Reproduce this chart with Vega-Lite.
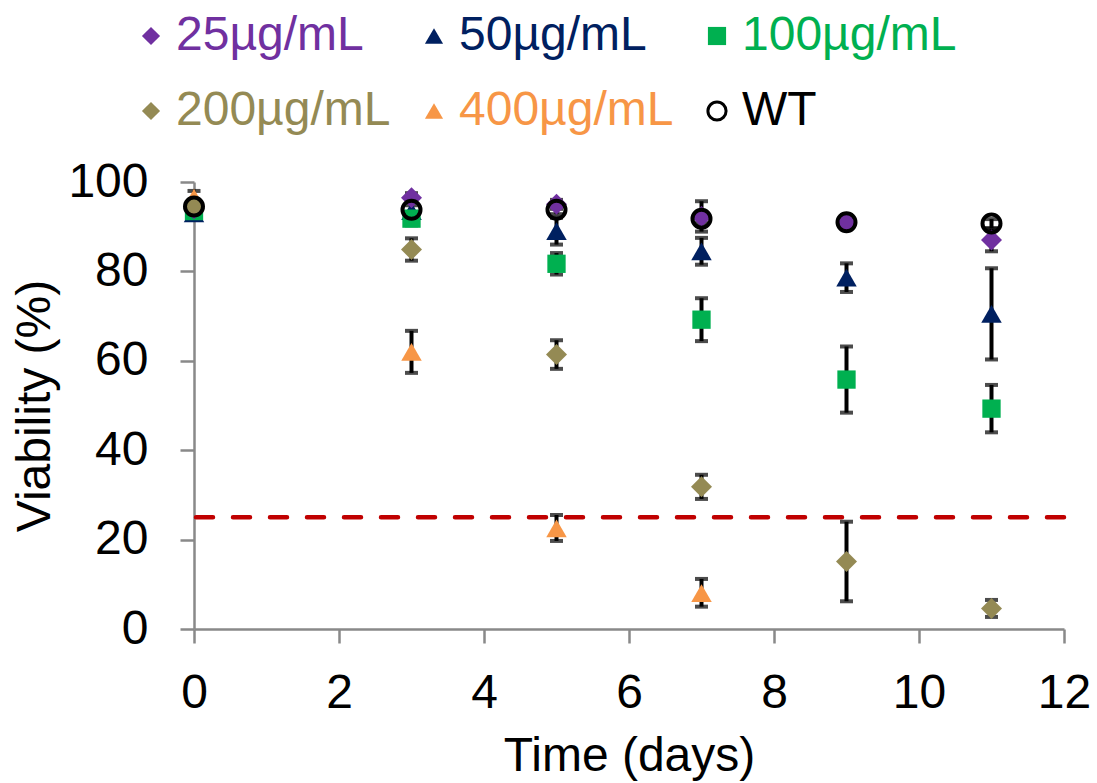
{
  "$schema": "https://vega.github.io/schema/vega-lite/v6.json",
  "width": 870,
  "height": 447,
  "autosize": "none",
  "padding": {"left": 194, "top": 182, "right": 33, "bottom": 154},
  "background": "white",
  "datasets": {
    "viability": [
      {"day": 0, "group": "25µg/mL", "v": 94.0, "lo": 93.0, "hi": 95.0},
      {"day": 3, "group": "25µg/mL", "v": 96.5, "lo": 95.5, "hi": 97.5},
      {"day": 5, "group": "25µg/mL", "v": 95.0, "lo": 94.0, "hi": 96.0},
      {"day": 7, "group": "25µg/mL", "v": 92.3, "lo": 88.9, "hi": 95.7},
      {"day": 9, "group": "25µg/mL", "v": 91.0, "lo": 89.5, "hi": 92.5},
      {"day": 11, "group": "25µg/mL", "v": 87.0, "lo": 84.5, "hi": 89.5},
      {"day": 0, "group": "50µg/mL", "v": 93.0, "lo": 92.0, "hi": 94.0},
      {"day": 3, "group": "50µg/mL", "v": 93.5, "lo": 90.7, "hi": 96.3},
      {"day": 5, "group": "50µg/mL", "v": 89.0, "lo": 86.0, "hi": 92.0},
      {"day": 7, "group": "50µg/mL", "v": 84.5, "lo": 81.5, "hi": 87.5},
      {"day": 9, "group": "50µg/mL", "v": 78.6, "lo": 75.4, "hi": 81.8},
      {"day": 11, "group": "50µg/mL", "v": 70.5, "lo": 60.3, "hi": 80.7},
      {"day": 0, "group": "100µg/mL", "v": 93.5, "lo": 91.5, "hi": 95.5},
      {"day": 3, "group": "100µg/mL", "v": 91.8, "lo": 90.3, "hi": 93.3},
      {"day": 5, "group": "100µg/mL", "v": 81.7, "lo": 79.3, "hi": 84.1},
      {"day": 7, "group": "100µg/mL", "v": 69.2, "lo": 64.4, "hi": 74.0},
      {"day": 9, "group": "100µg/mL", "v": 55.8, "lo": 48.4, "hi": 63.2},
      {"day": 11, "group": "100µg/mL", "v": 49.3, "lo": 44.0, "hi": 54.6},
      {"day": 0, "group": "200µg/mL", "v": 94.5, "lo": 93.5, "hi": 95.5},
      {"day": 3, "group": "200µg/mL", "v": 84.9, "lo": 82.4, "hi": 87.4},
      {"day": 5, "group": "200µg/mL", "v": 61.4, "lo": 58.2, "hi": 64.6},
      {"day": 7, "group": "200µg/mL", "v": 31.8, "lo": 29.1, "hi": 34.5},
      {"day": 9, "group": "200µg/mL", "v": 15.1, "lo": 6.2, "hi": 24.0},
      {"day": 11, "group": "200µg/mL", "v": 4.6, "lo": 2.7, "hi": 6.5},
      {"day": 0, "group": "400µg/mL", "v": 96.5, "lo": 95.0, "hi": 98.0},
      {"day": 3, "group": "400µg/mL", "v": 62.0, "lo": 57.3, "hi": 66.7},
      {"day": 5, "group": "400µg/mL", "v": 22.5, "lo": 19.7, "hi": 25.5},
      {"day": 7, "group": "400µg/mL", "v": 8.0, "lo": 5.0, "hi": 11.2},
      {"day": 0, "group": "WT", "v": 94.5, "lo": 93.5, "hi": 95.5},
      {"day": 3, "group": "WT", "v": 93.8, "lo": 92.8, "hi": 94.8},
      {"day": 5, "group": "WT", "v": 93.8, "lo": 92.8, "hi": 94.8},
      {"day": 7, "group": "WT", "v": 91.8, "lo": 90.8, "hi": 92.8},
      {"day": 9, "group": "WT", "v": 91.0, "lo": 90.0, "hi": 92.0},
      {"day": 11, "group": "WT", "v": 90.7, "lo": 89.7, "hi": 91.7}
    ]
  },
  "layer": [
    {
      "data": {"values": [{"threshold": 25}]},
      "mark": {"type": "rule", "color": "#C00000", "strokeWidth": 4.5, "strokeDash": [17, 20], "strokeCap": "round"},
      "encoding": {
        "y": {"field": "threshold", "type": "quantitative", "title": "Viability (%)",
              "scale": {"domain": [0, 100], "nice": false}}
      }
    },
    {
      "data": {"name": "viability"},
      "mark": {"type": "errorbar", "color": "black", "thickness": 4,
               "ticks": {"size": 13, "thickness": 4, "color": "black"}},
      "encoding": {
        "x": {"field": "day", "type": "quantitative", "title": "Time (days)",
              "scale": {"domain": [0, 12], "nice": false}},
        "y": {"field": "lo", "type": "quantitative", "title": "Viability (%)",
              "scale": {"domain": [0, 100], "nice": false}},
        "y2": {"field": "hi"}
      }
    },
    {
      "data": {"name": "viability"},
      "transform": [{"filter": {"field": "group", "oneOf": ["50µg/mL", "400µg/mL"]}}],
      "mark": {"type": "point", "opacity": 1, "strokeWidth": 4, "size": 420},
      "encoding": {
        "x": {"field": "day", "type": "quantitative", "title": "Time (days)",
              "scale": {"domain": [0, 12], "nice": false},
              "axis": {"values": [0, 2, 4, 6, 8, 10, 12], "format": "d", "labelFlush": false, "labelOverlap": false, "labelPadding": 26, "titlePadding": 15}},
        "y": {"field": "v", "type": "quantitative", "title": "Viability (%)",
              "scale": {"domain": [0, 100], "nice": false},
              "axis": {"values": [0, 20, 40, 60, 80, 100], "format": "d", "labelPadding": 32, "titlePadding": 8}},
        "fill": {"field": "group", "type": "nominal",
          "scale": {"domain": ["25µg/mL", "50µg/mL", "100µg/mL", "200µg/mL", "400µg/mL", "WT"],
                    "range": ["#7030A0", "#002060", "#00B050", "#948A54", "#F79646", "transparent"]},
          "legend": {"title": null, "orient": "none", "legendX": -67, "legendY": -170, "direction": "horizontal", "columns": 3,
            "encode": {"labels": {"fill": {"value": {"expr": "datum.label === 'WT' ? '#000000' : datum.label === '25µg/mL' ? '#7030A0' : datum.label === '50µg/mL' ? '#002060' : datum.label === '100µg/mL' ? '#00B050' : datum.label === '200µg/mL' ? '#948A54' : '#F79646'"}}}},
            "encoding": {"labels": {"fill": {"value": {"expr": "datum.label === 'WT' ? '#000000' : datum.label === '25µg/mL' ? '#7030A0' : datum.label === '50µg/mL' ? '#002060' : datum.label === '100µg/mL' ? '#00B050' : datum.label === '200µg/mL' ? '#948A54' : '#F79646'"}}}}}},
        "stroke": {"field": "group", "type": "nominal",
          "scale": {"domain": ["25µg/mL", "50µg/mL", "100µg/mL", "200µg/mL", "400µg/mL", "WT"],
                    "range": ["transparent", "transparent", "transparent", "transparent", "transparent", "#000000"]},
          "legend": {"title": null, "orient": "none", "legendX": -67, "legendY": -170, "direction": "horizontal", "columns": 3,
            "encode": {"labels": {"fill": {"value": {"expr": "datum.label === 'WT' ? '#000000' : datum.label === '25µg/mL' ? '#7030A0' : datum.label === '50µg/mL' ? '#002060' : datum.label === '100µg/mL' ? '#00B050' : datum.label === '200µg/mL' ? '#948A54' : '#F79646'"}}}},
            "encoding": {"labels": {"fill": {"value": {"expr": "datum.label === 'WT' ? '#000000' : datum.label === '25µg/mL' ? '#7030A0' : datum.label === '50µg/mL' ? '#002060' : datum.label === '100µg/mL' ? '#00B050' : datum.label === '200µg/mL' ? '#948A54' : '#F79646'"}}}}}},
        "shape": {"field": "group", "type": "nominal",
          "scale": {"domain": ["25µg/mL", "50µg/mL", "100µg/mL", "200µg/mL", "400µg/mL", "WT"],
                    "range": ["diamond", "triangle-up", "square", "diamond", "triangle-up", "circle"]},
          "legend": {"title": null, "orient": "none", "legendX": -67, "legendY": -170, "direction": "horizontal", "columns": 3,
            "encode": {"labels": {"fill": {"value": {"expr": "datum.label === 'WT' ? '#000000' : datum.label === '25µg/mL' ? '#7030A0' : datum.label === '50µg/mL' ? '#002060' : datum.label === '100µg/mL' ? '#00B050' : datum.label === '200µg/mL' ? '#948A54' : '#F79646'"}}}},
            "encoding": {"labels": {"fill": {"value": {"expr": "datum.label === 'WT' ? '#000000' : datum.label === '25µg/mL' ? '#7030A0' : datum.label === '50µg/mL' ? '#002060' : datum.label === '100µg/mL' ? '#00B050' : datum.label === '200µg/mL' ? '#948A54' : '#F79646'"}}}}}}
      }
    },
    {
      "data": {"name": "viability"},
      "transform": [{"filter": {"field": "group", "equal": "100µg/mL"}}],
      "mark": {"type": "point", "opacity": 1, "strokeWidth": 4, "size": 335},
      "encoding": {
        "x": {"field": "day", "type": "quantitative", "title": "Time (days)", "scale": {"domain": [0, 12], "nice": false}},
        "y": {"field": "v", "type": "quantitative", "title": "Viability (%)", "scale": {"domain": [0, 100], "nice": false}},
        "fill": {"field": "group", "type": "nominal"},
        "stroke": {"field": "group", "type": "nominal"},
        "shape": {"field": "group", "type": "nominal"}
      }
    },
    {
      "data": {"name": "viability"},
      "transform": [{"filter": {"field": "group", "oneOf": ["25µg/mL", "200µg/mL"]}}],
      "mark": {"type": "point", "opacity": 1, "strokeWidth": 4, "size": 440},
      "encoding": {
        "x": {"field": "day", "type": "quantitative", "title": "Time (days)", "scale": {"domain": [0, 12], "nice": false}},
        "y": {"field": "v", "type": "quantitative", "title": "Viability (%)", "scale": {"domain": [0, 100], "nice": false}},
        "fill": {"field": "group", "type": "nominal"},
        "stroke": {"field": "group", "type": "nominal"},
        "shape": {"field": "group", "type": "nominal"}
      }
    },
    {
      "data": {"name": "viability"},
      "transform": [{"filter": {"field": "group", "equal": "WT"}}],
      "mark": {"type": "point", "opacity": 1, "strokeWidth": 4, "size": 324},
      "encoding": {
        "x": {"field": "day", "type": "quantitative", "title": "Time (days)", "scale": {"domain": [0, 12], "nice": false}},
        "y": {"field": "v", "type": "quantitative", "title": "Viability (%)", "scale": {"domain": [0, 100], "nice": false}},
        "fill": {"field": "group", "type": "nominal"},
        "stroke": {"field": "group", "type": "nominal"},
        "shape": {"field": "group", "type": "nominal"}
      }
    }
  ],
  "config": {
    "view": {"stroke": null},
    "axis": {
      "grid": false,
      "domainColor": "#898989", "domainWidth": 2.5,
      "tickColor": "#898989", "tickWidth": 2.5, "tickSize": 14,
      "labelFont": "Liberation Sans", "labelFontSize": 48, "labelColor": "#000000",
      "titleFont": "Liberation Sans", "titleFontSize": 48, "titleFontWeight": "normal", "titleColor": "#000000"
    },
    "legend": {
      "labelFont": "Liberation Sans", "labelFontSize": 48,
      "symbolSize": 330, "symbolStrokeWidth": 3,
      "columnPadding": 19, "rowPadding": 27, "labelOffset": 1, "labelLimit": 400
    }
  }
}
